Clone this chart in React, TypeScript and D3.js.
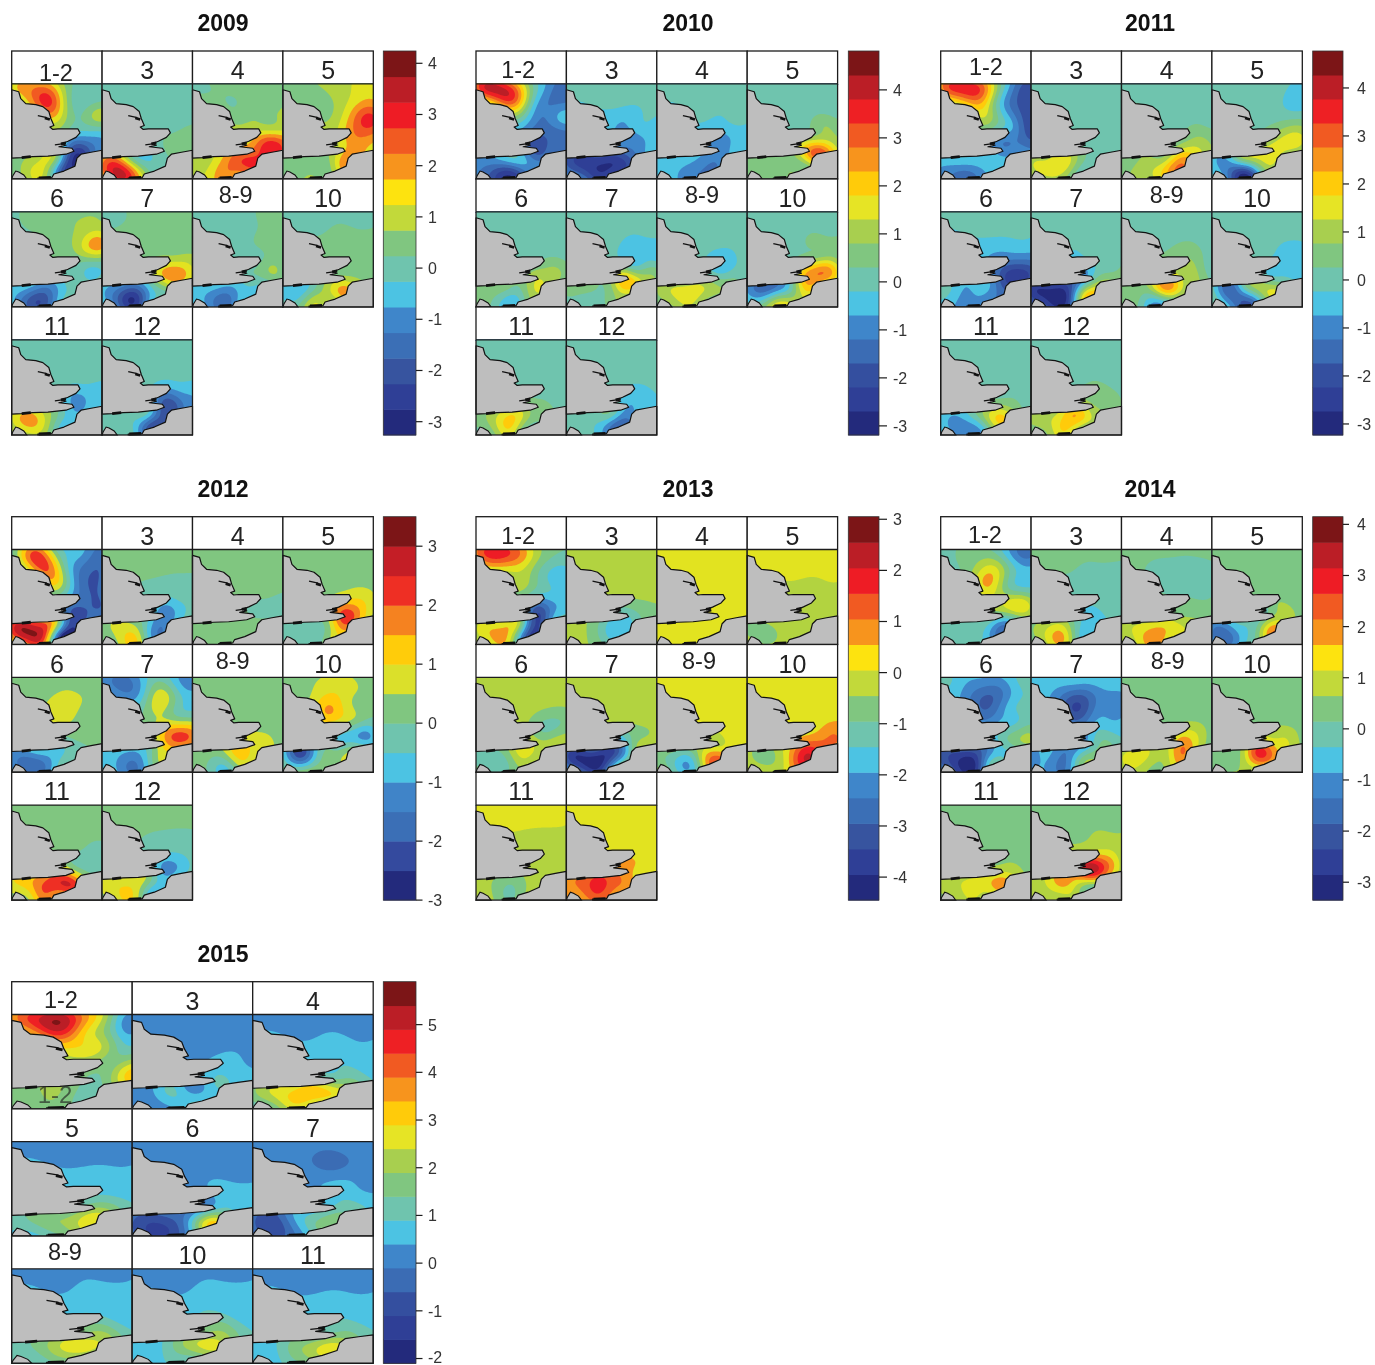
import React, { useMemo } from "react";
import * as d3 from "d3";

// Sample locations on the sea in map units (map is 90 wide, 96 high).
const sampleX = [4,22,42,66,86, 36,58,84, 46,66,86, 72,86, 68,78,87,72, 60, 4,18,32,46,58, 18,34,48];
const sampleY = [2,4,4,4,4, 18,18,20, 34,34,36, 48,48, 59,60,60,67, 71, 79,79,79,79,78, 91,90,85];

const england = [[0,6],[7,8],[9,15],[14,20],[24,21],[31,23],[37,28],[39,35],[42,42],[38,43.5],[41,46],[46,45.5],[52,45.5],[66,45.5],[68,49.5],[64,54],[56,58],[50,60.5],[54,62],[47,63.5],[60,65],[62,68],[54,71],[36,73],[21,73.5],[10,74.5],[0,75]];
const france = [[90,67],[79,69],[69,71],[65,75],[63,83],[52,88],[42,91],[40,94.5],[26,95],[26,96],[90,96]];
const cotentin = [[0,96],[1,93],[4,88],[7,89],[12,92],[15,96]];
const estuaries = [
  [[33,34.5],[38,36]],
  [[49,60.5],[54,59.5]],
  [[10,74.5],[19,73.5]],
  [[27,95],[39,94.5]],
];
const estuaryLine = [[26,32],[35,34]];
const estuaryLine2 = [[43,61.5],[50,60.5]];

const labels4 = ["1-2","3","4","5","6","7","8-9","10","11","12"];
const labels2012 = ["","3","4","5","6","7","8-9","10","11","12"];
const labels2015 = ["1-2","3","4","5","6","7","8-9","10","11"];

const values2009 = [
[1.7,2.2,1.8,0,-.2, 3,.4,.3, 1.5,.2,.9, -.3,-.3, -1.5,-1.3,-1,-2.3, -2.5, .5,1,1.3,0,-2.5, 1.2,1,-1.5],
[0,0,0,0,0, 0,0,0, 0,0,.1, .2,.4, .4,.5,.5,.4, .1, 2.5,2.4,.6,-.2,0, 3.5,2,0],
[.1,.3,.5,.5,.5, .2,.5,.5, .5,.7,.8, 1.3,1.3, 2.5,3,2.7,3, 2.5, 1,1.2,2,2.7,3, 1.5,2.2,2.4],
[.5,.5,.8,1.2,1.5, .5,1,2, .7,1.8,3, 2.3,2.5, 2,2,1.8,2, 1.7, .6,.6,.5,.7,2, .6,.6,.7],
[.2,.4,.5,.7,.7, .4,.7,1.3, .5,1,2, .5,.5, -.1,-.4,-.3,-.2, 0, -.5,-1,-1.5,-.8,-.2, -2,-2,-.5],
[0,.2,.4,.5,.5, .4,.5,.5, .5,.6,.6, 1,1, 2,2,1.5,2, 1.2, -.8,-1.5,-2,-.8,.1, -2,-2.7,-.6],
[0,0,0,.3,.5, 0,.1,.5, 0,.3,.5, .3,.4, .4,.9,.6,.2, 0, -.5,-.7,-1,-.7,-.4, -1.1,-1.6,-.5],
[0,0,0,0,0, .1,.4,.3, .5,.5,.5, .5,.5, .5,.5,.5,.8, 1.3, -.6,-.6,.3,1.2,2, .2,1.2,1],
[0,0,0,0,0, 0,0,0, 0,0,0, -.4,-.5, -.9,-.6,-.5,-.8, -.7, 1.5,2,1.3,.2,-.5, 1.5,1,-.3],
[0,0,0,0,0, 0,0,0, 0,-.1,-.1, -.6,-.5, -1.7,-1.2,-.9,-2, -2, 0,0,-.2,-.7,-1.8, 0,-.5,-2],
];
const values2010 = [
[3.5,4,2.5,-.5,-1.5, 3.2,-.2,-1.2, .2,-1.2,-.5, -1.5,-1.3, -1.8,-1.5,-1.5,-1.5, -1.8, -1,-1,-.7,-.5,-1, -2,-2.5,-1],
[0,0,0,0,0, 0,0,0, -.5,-.5,-.2, -.5,-.5, -1.1,-.7,-.4,-1, -1.5, -2,-2.5,-2.5,-2.7,-2.3, -1.8,-2.7,-2.5],
[0,0,0,0,0, 0,0,0, -.1,-.2,0, -.5,-.4, -.9,-.5,-.3,-.7, -1, -.6,-.5,-.6,-1,-1.2, -.6,-1.1,-1.2],
[0,0,0,0,0, 0,0,0, 0,.3,.4, .8,.8, 1.6,1.7,1.2,3.2, 2.5, .4,.5,.5,.5,1, .5,.5,.7],
[0,0,0,0,0, 0,0,0, 0,0,0, .4,.3, .9,1,.7,1.1, 1.4, .5,.5,.3,.3,1.3, .2,-.6,.4],
[0,0,0,0,0, 0,0,0, 0,-.5,-.5, -.5,-.3, .3,.6,.6,1.3, 2.5, .4,.4,.3,.7,1.7, 0,.1,.9],
[0,0,0,0,0, 0,0,0, 0,-.1,0, -.5,0, -.4,0,0,.3, .6, 1,1.4,1.5,1.4,1, 1.1,1.5,1],
[0,0,0,0,0, 0,.1,.1, 0,.4,.5, 1,1, 2.6,2.9,2,2.5, 2.5, -1,-1.4,-.7,.4,1.9, .3,1.3,.9],
[0,0,0,0,0, 0,0,0, 0,0,0, 0,0, .3,.1,0,.4, .5, .6,1.2,1.9,1.4,.6, .9,1.8,.7],
[0,0,0,0,0, 0,0,0, 0,0,0, -.3,-.1, -.6,-.5,-.3,-.5, -.8, 0,0,0,-.3,-1.1, 0,-.5,-1.4],
];
const values2011 = [
[3,3.6,3,-.5,-2, 2.6,-.1,-2, 1.2,-.5,-2, -.8,-1.9, -1.3,-1.2,-1.5,-1, -.8, -.6,-.5,-.5,-.4,-.5, -1.4,-1.2,-.5],
[0,0,0,0,0, 0,0,0, 0,0,0, 0,0, 0,0,0,0, .1, 1.3,1.4,1.7,.7,.1, 1.4,1.1,.2],
[0,0,0,0,0, 0,0,0, 0,.1,.1, .5,.4, .9,1.1,.8,1.5, 1.9, .7,.8,1,1.5,2.6, .9,1.4,2.4],
[0,0,0,0,-.4, 0,0,-.5, 0,.1,.3, 1,1.2, 1.4,1.5,1.4,1.3, 1.5, -.7,-.8,.2,.9,1.4, -1.5,-2.7,.4],
[0,0,0,0,0, 0,0,0, -.5,-.5,-.5, -1.2,-1.2, -2.2,-2.4,-2.2,-2.6, -1.8, 0,-.6,-.7,-.6,-1.4, -.8,-.8,-1],
[0,0,0,0,0, 0,0,0, -.2,0,0, -.2,0, 0,.1,.4,.7, .2, -2.7,-2.8,-2.8,-.6,1.4, -2.7,-2.9,.7],
[0,0,0,0,0, 0,0,0, .2,.4,.1, .7,.1, 1,.6,.1,1, 1.3, .5,.5,1,2.4,1.5, .2,-.6,1],
[0,0,0,0,0, 0,0,0, 0,-.2,-.4, -.5,-.5, -.4,-.5,-.5,-.1, .3, -.4,-1.7,-.3,.8,1.4, -1,-1.8,.2],
[0,0,0,0,0, 0,0,0, 0,0,0, .1,0, .3,.2,0,.6, 1.3, -.6,-.8,-.2,1,2, -1,-1,.7],
[0,0,0,0,0, 0,0,0, 0,.1,0, .4,.2, .7,.5,.3,.7, 1, 1,1.2,1.8,2.3,1.5, 1,1.9,1.4],
];
const values2012 = [
[.3,2.2,.5,-.8,-1.7, 2.1,-.7,-2, 1,-1.4,-2, -1.8,-2, -2,-2,-2,-2.1, -2.4, 2.7,2.9,2.3,.1,-2.2, 2.6,1.8,-2.1],
[.3,.3,.3,.3,.3, .3,.3,.1, -.1,-.2,-.2, -.4,-.3, -1.1,-.7,-.4,-1, -1.4, .4,.7,.6,-.6,-1.5, .7,1.1,-1],
[.3,.3,.3,.3,.3, .3,.3,.3, .3,.3,.2, .1,-.1, -.3,-.3,-.2,-.1, .1, .2,.2,.4,.4,.3, .2,.4,.3],
[.3,.3,.3,.3,.3, .3,.3,.3, .3,.4,.4, .9,.7, 1.8,1.4,.7,1.9, 2.3, -.2,-.2,-.2,.3,1.6, -.3,-.3,.6],
[.3,.3,.3,.3,.3, .4,.6,.4, .8,.5,.3, .3,.3, .2,.2,.2,0, -.3, -1.3,-1.3,-1,-.7,-.3, -2,-1.5,-.4],
[-1.3,-1.7,-.7,-.3,-1.3, -1,.8,-.7, .3,.3,-.4, 1,1, 2,2.2,2,1.8, .9, -.6,-1,-1.2,-.4,.7, -1.2,-1.6,-.2],
[.3,.3,.3,.3,.3, .3,.3,.3, .3,.3,.3, .3,.3, .6,.5,.3,.7, .9, .2,.1,.3,1.2,.9, -.2,-.5,.9],
[.3,.4,.6,.6,.3, .8,.9,.3, 1.6,.7,.1, 0,-.4, -.8,-1.2,-1,-.3, -.2, -1,-2.3,-.7,.2,.4, -.4,.1,.2],
[.3,.3,.3,.3,.3, .3,.3,.3, .3,.2,0, -.1,-.3, -.2,-.3,-.3,.1, 1.4, 1,1.4,2,2.5,2.6, .8,2,2],
[.3,.3,.3,.3,.3, .3,.2,.1, -.1,-.2,-.2, -.5,-.3, -1.1,-.9,-.5,-1, -1, .7,.9,.8,.2,-.6, 1,.8,-.7],
];
const values2013 = [
[1.3,1.9,1.2,-.5,-1, .4,-.5,-1.6, -.2,-1.2,-1.7, -1.7,-1.7, -2.9,-2.1,-1.7,-2.5, -3.6, .2,.5,.5,-1,-3.4, .6,.2,-2.6],
[-.2,-.2,-.2,-.2,-.2, -.2,-.2,-.2, -.2,-.2,-.2, -.4,-.3, -.8,-.7,-.6,-1, -1.7, -.4,-.4,-1,-1.8,-1.8, -.4,-1,-1.8],
[.3,.3,.3,.3,.3, .3,.3,.3, .3,.3,.3, .3,.3, .3,.3,.3,.3, .3, .3,.3,.3,.3,.3, .3,.3,.3],
[.3,.3,.3,.3,.3, .3,.3,.3, 0,-.1,0, -.3,-.2, -.3,-.3,-.2,-.2, -.2, -.5,-.5,-.4,-.3,-.3, -.5,-.4,-.3],
[-.2,-.2,-.2,-.2,-.2, -.2,-.2,-.2, -.2,-.5,-.7, -1.1,-.9, -.8,-.5,-.3,-.2, 0, -1.2,-1.2,-.7,.2,-.1, -1.2,-.9,-.1],
[-.2,-.2,-.2,-.2,-.2, -.2,-.2,-.2, -.2,-.2,-.2, -.4,-.3, -.8,-.5,-.3,-.3, -1.7, -3.7,-3.9,-3.9,-3.6,-2, -3.7,-4,-2.2],
[.3,.3,.3,.3,.3, .3,.3,.3, .3,.3,.3, .3,.3, .2,.3,.3,.2, 0, -.8,-1.2,-1.4,.2,1, -1.4,-1.9,.5],
[.3,.3,.3,.3,.3, .3,.3,.3, .3,.3,.3, .4,.7, .7,1,1.1,1.2, 1.6, -.4,-.8,-.2,1,2.1, -.3,-.1,1.3],
[.3,.3,.3,.3,.3, .3,.2,.1, -.2,-.2,-.2, -.2,-.2, -.2,-.2,-.2,-.2, -.2, -.4,-.5,-.9,-.6,-.3, -.5,-1.1,-.5],
[.3,.3,.3,.3,.3, .3,.3,.3, .3,.3,.3, .3,.3, .6,.4,.3,.3, .8, 1,1.3,1.8,1.3,1, 1,1.5,1],
];
const values2014 = [
[-.1,.3,.4,-.6,-1.6, .8,1,-.7, 1.8,.2,-.5, .9,.7, 1.3,1.6,1.2,.3, -.5, -.1,-.1,-.1,-.4,-1.4, -.1,-.1,-.8],
[.4,.4,.4,.4,.4, .3,0,-.1, -.1,-.1,-.1, -.1,-.1, -.3,-.1,-.1,-.4, -.6, .7,1.2,1.3,-.1,-.6, 1.4,1.6,-.4],
[.4,.4,.3,.2,.3, -.1,-.1,-.1, -.1,-.1,-.1, .1,.1, .4,.4,.4,.6, .8, 1,1.3,1.6,1.6,1.3, 1.4,2.1,1.4],
[.4,.4,.4,.4,.4, .4,.4,.4, .4,.4,.4, .4,.3, .8,.7,.5,.9, .8, -1.4,-1,-.4,.3,1.8, -1.6,-.4,.7],
[-.2,-.7,-1,-.8,-.1, -1.6,-1.6,-.3, -1.8,-.7,-.1, -.4,.1, .2,.6,.8,.2, -.4, -2.2,-2.6,-2.6,-1.3,-.5, -2.8,-3,-.4],
[-.5,-.6,-.6,-.6,-.6, -1.6,-1.6,-1, -2.4,-1.1,-1, -.6,-.7, -.1,-.1,-.3,.3, -.3, -1,-.8,-1.4,-.5,.3, -1,-1.4,.2],
[.4,.4,.4,.4,.4, .4,.4,.4, .4,.4,.4, .8,.5, 1.5,1.1,.5,1.5, 2.2, 1.2,1.3,1,1,2.1, 1.1,.5,1.2],
[.4,.4,.4,.4,.4, .4,.4,.4, .4,.4,.4, .6,.5, 1.1,1,.6,1.3, 1.8, .4,.4,1,2.9,2.4, .6,.9,2.1],
[.4,.4,.4,.4,.4, .4,.4,.4, .4,.4,.4, .4,.3, .7,.6,.4,1, 1.4, .9,1.1,1.3,1.5,2, .9,1.3,1.3],
[.4,.4,.4,.4,.4, .4,.4,.4, .5,.8,.8, 1.4,1, 2.8,2.2,1.2,2.5, 3, 1,1.3,1.9,1.2,.9, .9,1.1,.8],
];
const values2015 = [
[3.9,5,5,2.6,.2, 4.8,2.7,.5, 2.9,2.5,1.1, 1.6,2, 1.5,2.2,3.1,1.7, 1.2, 1.6,1.8,2,1.5,1.2, 1.7,1.8,1.3],
[.2,.2,.2,.2,.2, .2,.2,.2, .2,.2,.2, .7,.3, .8,.7,.6,.9, .9, .1,.5,1,.2,.6, .2,.7,.8],
[.2,.2,.2,.2,.2, .2,.4,.2, .6,.7,.6, .8,.7, 1.1,1,.8,1.6, 1.9, 2,2.6,3,3.4,3, 2,3,2.8],
[.2,.2,.2,.2,.2, .2,.2,.2, .6,.7,.7, .7,.7, 1.2,1.1,.9,1.8, 2.2, 1.2,1.6,1.9,2.1,2.8, 1,1.6,2.3],
[.2,.2,.2,.2,.2, .2,.2,.2, .2,.3,.2, .7,.6, .8,.7,.6,.9, 1, -.7,-.9,-.5,.9,2.6, -1.3,-.7,1.6],
[.2,.2,.2,.2,.2, .1,-.4,.1, .2,.2,.2, .6,.3, .9,.8,.7,1.2, 1.2, -.7,-.8,.5,1.2,1.7, -.9,.2,1.5],
[.2,.2,.2,.2,.2, .2,.6,.6, .7,.7,.7, .8,.7, 1.6,1.2,.9,2, 2.3, 1.2,1.5,2.2,2.7,2.6, 1.1,1.8,2.4],
[.2,.2,.2,.2,.2, .2,.6,.6, .7,.7,.7, .9,.7, 1.7,1.2,.9,1.9, 2.3, .6,.7,1.5,2.3,2.7, .7,1.2,1.8],
[.2,.2,.2,.2,.2, .2,.3,.2, .6,.7,.7, .8,.7, 1.2,1.1,.9,1.6, 1.9, .6,.9,1.7,2.2,2.7, .8,1.6,2.4],
];

const ticks2009 = [-3,-2,-1,0,1,2,3,4];
const ticks2012 = [-3,-2,-1,0,1,2,3];
const ticks2013 = [-4,-3,-2,-1,0,1,2,3];
const ticks2015 = [-2,-1,0,1,2,3,4,5];

const palette13 = ["#232a7c","#344a9e","#3b6fb6","#4084c8","#4cc3e3","#6fc4ae","#80c680","#dbe02a","#ffcc0a","#f58220","#ee2f24","#c41e26","#7c1517"];
const palette15 = ["#232a7c","#2f3f96","#37549f","#3b6fb6","#3f86ca","#4cc3e3","#6fc4ae","#80c680","#c2d93a","#fde30f","#f7941d","#f15a22","#ee1c25","#bb1e26","#7c1517"];
const fieldPalette15 = ["#232a7c","#2f3f96","#37549f","#3b6fb6","#3f86ca","#4cc3e3","#6cc3ae","#7cc684","#b2d340","#e2e320","#f7941d","#f15a22","#ee1c25","#bb1e26","#7c1517"];
const palette16 = ["#232a7c","#2f3f96","#344f9f","#3b6cb4","#3f86ca","#4cc3e3","#6fc4ae","#80c680","#a8cf4f","#e6e425","#ffcb0a","#f7941d","#f15a22","#ee2024","#bb1e26","#7c1517"];

const BAND = 0.5;
const MAP_W = 90, MAP_H = 96, SIGMA = 13;

type YearCfg = { year: string; x: number; y: number; rowH: number; cols: number; colW: number; labels: string[]; values: number[][]; min: number; palette: string[]; fieldPalette: string[]; ticks: number[]; barX: number; barW: number; tickLen: number; labelGap: number; titleX: number; shift: Record<string, [number, number]> };

const years: YearCfg[] = [
  { year:"2009", x:11.7, y:51, rowH:128, cols:4, colW:90.4, labels:labels4, values:values2009, min:-3.26, palette:palette15, fieldPalette:fieldPalette15, ticks:ticks2009, barX:383.3, barW:32.7, tickLen:6.5, labelGap:12, titleX:223, shift:{"1-2":[-1,2],"8-9":[-2,-4]} },
  { year:"2010", x:476, y:51, rowH:128, cols:4, colW:90.4, labels:labels4, values:values2010, min:-3.19, palette:palette16, fieldPalette:palette16, ticks:ticks2009, barX:848.3, barW:30.7, tickLen:8, labelGap:14, titleX:688, shift:{"1-2":[-3,-1],"8-9":[0,-4]} },
  { year:"2011", x:940.7, y:51, rowH:128, cols:4, colW:90.4, labels:labels4, values:values2011, min:-3.23, palette:palette16, fieldPalette:palette16, ticks:ticks2009, barX:1312.7, barW:30.3, tickLen:6, labelGap:14, titleX:1150, shift:{"1-2":[0,-4],"8-9":[0,-4]} },
  { year:"2012", x:11.7, y:516.7, rowH:127.8, cols:4, colW:90.4, labels:labels2012, values:values2012, min:-3, palette:palette13, fieldPalette:palette13, ticks:ticks2012, barX:383.3, barW:32.7, tickLen:6.5, labelGap:12, titleX:223, shift:{"8-9":[-5,-4]} },
  { year:"2013", x:476, y:516.7, rowH:127.8, cols:4, colW:90.4, labels:labels4, values:values2013, min:-4.45, palette:palette15, fieldPalette:fieldPalette15, ticks:ticks2013, barX:848.3, barW:30.7, tickLen:8, labelGap:14, titleX:688, shift:{"1-2":[-3,-1],"8-9":[-3,-4]} },
  { year:"2014", x:940.7, y:516.7, rowH:127.8, cols:4, colW:90.4, labels:labels4, values:values2014, min:-3.35, palette:palette15, fieldPalette:fieldPalette15, ticks:ticks2009, barX:1312.7, barW:30.3, tickLen:6, labelGap:14, titleX:1150, shift:{"1-2":[-1,-2],"8-9":[1,-4]} },
  { year:"2015", x:11.7, y:981.7, rowH:127.2, cols:3, colW:120.5, labels:labels2015, values:values2015, min:-2.1, palette:palette16, fieldPalette:palette16, ticks:ticks2015, barX:383.3, barW:32.7, tickLen:6.5, labelGap:12, titleX:223, shift:{"1-2":[-11,-2],"8-9":[-7,-4]} },
];

const STRIP_H = 32.8;
const FONT = "'Liberation Sans', Arial, sans-serif";
const INK = "#1c1c1c";

function invert(m: number[][]): number[][] {
  const n = m.length;
  const a = m.map((r, i) => [...r, ...r.map((_, j) => (i === j ? 1 : 0))]);
  for (let c = 0; c < n; c++) {
    let p = c;
    for (let r = c + 1; r < n; r++) if (Math.abs(a[r][c]) > Math.abs(a[p][c])) p = r;
    [a[c], a[p]] = [a[p], a[c]];
    const d = a[c][c];
    for (let j = 0; j < 2 * n; j++) a[c][j] /= d;
    for (let r = 0; r < n; r++) {
      if (r === c) continue;
      const f = a[r][c];
      if (f === 0) continue;
      for (let j = 0; j < 2 * n; j++) a[r][j] -= f * a[c][j];
    }
  }
  return a.map((r) => r.slice(n));
}

const kernel = (dx: number, dy: number) => Math.exp(-(dx * dx + dy * dy) / (2 * SIGMA * SIGMA));

function buildFieldFn() {
  const n = sampleX.length;
  const K = sampleX.map((x, i) => sampleX.map((x2, j) => kernel(x - x2, sampleY[i] - sampleY[j]) + (i === j ? 0.02 : 0)));
  const inv = invert(K);
  const basis: Float64Array[] = [];
  for (let k = 0; k < n; k++) {
    const b = new Float64Array(MAP_W * MAP_H);
    for (let gy = 0; gy < MAP_H; gy++) for (let gx = 0; gx < MAP_W; gx++) b[gy * MAP_W + gx] = kernel(gx + 0.5 - sampleX[k], gy + 0.5 - sampleY[k]);
    basis.push(b);
  }
  return (vals: number[]) => {
    const base = d3.median(vals) as number;
    const res = vals.map((v) => v - base);
    const w = inv.map((r) => d3.sum(r, (c, i) => c * res[i]));
    const out = new Float64Array(MAP_W * MAP_H).fill(base);
    for (let k = 0; k < n; k++) {
      if (w[k] === 0) continue;
      const b = basis[k];
      for (let i = 0; i < out.length; i++) out[i] += w[k] * b[i];
    }
    return out;
  };
}

function Panel({ cfg, i, fieldFn }: { cfg: YearCfg; i: number; fieldFn: (v: number[]) => Float64Array }) {
  const col = i % cfg.cols, row = Math.floor(i / cfg.cols);
  const left = cfg.x + col * cfg.colW;
  const top = cfg.y + row * cfg.rowH;
  const panelTop = top + STRIP_H;
  const panelH = cfg.rowH - STRIP_H;
  const sx = d3.scaleLinear().domain([0, MAP_W]).range([left, left + cfg.colW]);
  const sy = d3.scaleLinear().domain([0, MAP_H]).range([panelTop, panelTop + panelH]);
  const line = d3.line().x((d) => sx(d[0])).y((d) => sy(d[1]));

  const bands = useMemo(() => {
    const field = fieldFn(cfg.values[i]);
    const n = cfg.fieldPalette.length;
    const thresholds = d3.range(1, n).map((k) => cfg.min + k * BAND);
    const contours = d3.contours().size([MAP_W, MAP_H]).thresholds(thresholds)(field as any);
    const geo = d3.geoPath(d3.geoTransform({ point(x: number, y: number) { (this as any).stream.point(sx(x), sy(y)); } }));
    return contours.map((c, k) => ({ d: geo(c as any) || "", fill: cfg.fieldPalette[k + 1] }));
  }, [cfg, i]);

  const label = cfg.labels[i];
  const [dx, dy] = cfg.shift[label] || [0, 0];
  return (
    <g>
      <rect x={left} y={top} width={cfg.colW} height={STRIP_H} fill="#fff" />
      <rect x={left} y={panelTop} width={cfg.colW} height={panelH} fill={cfg.fieldPalette[0]} />
      {bands.map((b, k) => (<path key={k} d={b.d} fill={b.fill} />))}
      <path d={line(england as any) + "Z"} fill="#bebebe" stroke="#111" strokeWidth={1.2} strokeLinejoin="round" />
      <path d={line(france as any) + "Z"} fill="#bebebe" stroke="#111" strokeWidth={1.2} strokeLinejoin="round" />
      <path d={line(cotentin as any) + "Z"} fill="#bebebe" stroke="#111" strokeWidth={1.1} />
      {estuaries.map((e, k) => (<path key={k} d={line(e as any) || ""} stroke="#111" strokeWidth={2.8} fill="none" />))}
      <path d={line(estuaryLine as any) || ""} stroke="#111" strokeWidth={1.3} fill="none" />
      <path d={line(estuaryLine2 as any) || ""} stroke="#111" strokeWidth={1.3} fill="none" />
      <rect x={left} y={top} width={cfg.colW} height={cfg.rowH} fill="none" stroke={INK} strokeWidth={1.3} />
      <line x1={left} x2={left + cfg.colW} y1={panelTop} y2={panelTop} stroke={INK} strokeWidth={1.3} />
      {label ? (
        <text x={left + cfg.colW / 2 + dx} y={top + 28 + dy} textAnchor="middle" fontFamily={FONT} fontSize={label.length === 3 ? 23.5 : 25} fill="#222">{label}</text>
      ) : null}
    </g>
  );
}

function ColorBar({ cfg }: { cfg: YearCfg }) {
  const rows = Math.ceil(cfg.labels.length / cfg.cols);
  const top = cfg.y;
  const bottom = cfg.y + rows * cfg.rowH;
  const n = cfg.palette.length;
  const y = d3.scaleLinear().domain([cfg.min, cfg.min + n * BAND]).range([bottom, top]);
  const right = cfg.barX + cfg.barW;
  return (
    <g>
      {cfg.palette.map((c, k) => (
        <rect key={k} x={cfg.barX} y={y(cfg.min + (k + 1) * BAND)} width={cfg.barW} height={y(cfg.min + k * BAND) - y(cfg.min + (k + 1) * BAND) + 0.5} fill={c} />
      ))}
      <rect x={cfg.barX} y={top} width={cfg.barW} height={bottom - top} fill="none" stroke="#333" strokeWidth={0.8} />
      {cfg.ticks.map((t) => (
        <g key={t}>
          <line x1={right} x2={right + cfg.tickLen} y1={y(t)} y2={y(t)} stroke={INK} strokeWidth={1.2} />
          <text x={right + cfg.labelGap} y={Math.min(y(t) + 6, 1363)} fontFamily={FONT} fontSize={16} fill="#333">{String(t)}</text>
        </g>
      ))}
    </g>
  );
}

export default function App() {
  const fieldFn = useMemo(buildFieldFn, []);
  return (
    <svg width={1375} height={1365} viewBox="0 0 1375 1365" style={{ position: "absolute", left: 0, top: 0, background: "#fff", filter: "blur(0.45px)" }}>
      {years.map((cfg) => (
        <g key={cfg.year}>
          <text x={cfg.titleX} y={cfg.y - 20} textAnchor="middle" fontFamily={FONT} fontWeight="bold" fontSize={23} fill="#111">{cfg.year}</text>
          {cfg.values.map((_, i) => (<Panel key={i} cfg={cfg} i={i} fieldFn={fieldFn} />))}
          <ColorBar cfg={cfg} />
        </g>
      ))}
      <text x={55} y={1103} textAnchor="middle" fontFamily={FONT} fontSize={24} fill="#222" opacity={0.65}>1-2</text>
    </svg>
  );
}
